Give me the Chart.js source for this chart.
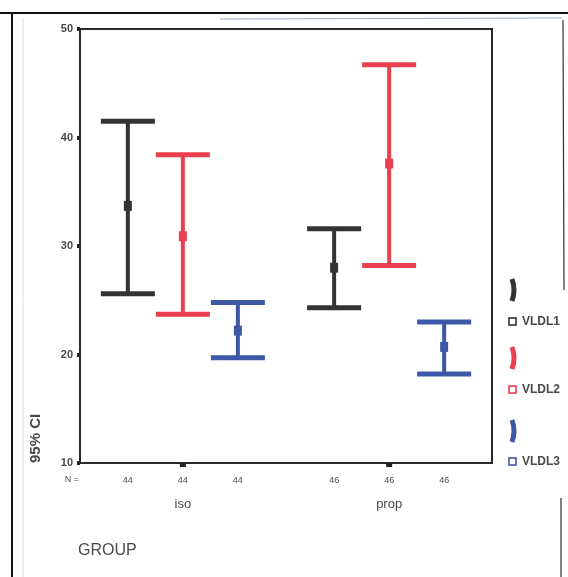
<!DOCTYPE html>
<html lang="en">
    <head>
        <meta charset="utf-8" />
        <title>95% CI by group</title>
        <script src="https://cdn.jsdelivr.net/npm/chart.js"></script>
        <style>
            html, body { margin: 0; padding: 0; background: #fff; }
            #wrap { width: 568px; height: 577px; position: relative; }
        </style>
    </head>
    <body>
        <div id="wrap">
          <canvas id="ciChart" width="568" height="577"></canvas>
        </div>
        <script>
            // data
            const groups = ['iso', 'prop'];
            const seriesNames = ['VLDL1', 'VLDL2', 'VLDL3'];
            const seriesColors = ['#333333', '#e8404f', '#3c58a6'];
            const nCounts = [[44, 44, 44], [46, 46, 46]];   // per group, per series

            const meanVLDL1 = [33.7, 28.0];
            const meanVLDL2 = [30.9, 37.6];
            const meanVLDL3 = [22.2, 20.7];
            const lowVLDL1 = [25.6, 24.3];
            const lowVLDL2 = [23.7, 28.2];
            const lowVLDL3 = [19.7, 18.2];
            const highVLDL1 = [41.5, 31.6];
            const highVLDL2 = [38.4, 46.7];
            const highVLDL3 = [24.8, 23.0];

            const yTicks = [10, 20, 30, 40, 50];

            const means = [meanVLDL1, meanVLDL2, meanVLDL3];
            const lows = [lowVLDL1, lowVLDL2, lowVLDL3];
            const highs = [highVLDL1, highVLDL2, highVLDL3];

            // cluster layout on the x scale
            const groupCenter = [2, 5.75];
            const slotOffset = [-1, 0, 1];
            const slotX = [];
            groups.forEach((g, gi) => slotOffset.forEach(o => slotX.push(groupCenter[gi] + o)));

            const datasets = seriesNames.map((name, si) => ({
              label: name,
              data: groups.map((g, gi) => ({
                x: groupCenter[gi] + slotOffset[si],
                y: means[si][gi],
                lo: lows[si][gi],
                hi: highs[si][gi]
              })),
              borderColor: seriesColors[si],
              backgroundColor: seriesColors[si],
              pointRadius: 0,
              showLine: false
            }));

            const textColor = '#4a4a4a';
            const font = '"Liberation Sans", Arial, sans-serif';

            // scan frame lines round the figure
            const framePlugin = {
              id: 'frame',
              beforeDraw(chart) {
                const ctx = chart.ctx;
                ctx.save();
                ctx.strokeStyle = '#111';
                ctx.lineWidth = 2;
                ctx.beginPath();
                ctx.moveTo(0, 13); ctx.lineTo(568, 13);
                ctx.moveTo(12, 13); ctx.lineTo(12, 577);
                ctx.stroke();
                ctx.strokeStyle = '#ddd';
                ctx.lineWidth = 1;
                ctx.beginPath();
                ctx.moveTo(23, 18); ctx.lineTo(23, 577);
                ctx.stroke();
                ctx.strokeStyle = '#9aa8c0';
                ctx.beginPath();
                ctx.moveTo(220, 19); ctx.lineTo(562, 18);
                ctx.stroke();
                ctx.strokeStyle = '#333';
                ctx.lineWidth = 1.2;
                ctx.beginPath();
                ctx.moveTo(563, 20); ctx.lineTo(564, 290);
                ctx.moveTo(561, 498); ctx.lineTo(561, 577);
                ctx.stroke();
                ctx.restore();
              }
            };

            // error bars, mean markers, box, labels and legend
            const errorBarPlugin = {
              id: 'errorBars',
              afterDatasetsDraw(chart) {
                const ctx = chart.ctx;
                const xs = chart.scales.x, ys = chart.scales.y;
                const area = chart.chartArea;
                ctx.save();

                // box round the plot
                ctx.strokeStyle = '#2a2a2a';
                ctx.lineWidth = 2;
                ctx.strokeRect(area.left, area.top, area.right - area.left, area.bottom - area.top);

                chart.data.datasets.forEach(ds => {
                  ds.data.forEach(p => {
                    const px = xs.getPixelForValue(p.x);
                    const pLo = ys.getPixelForValue(p.lo);
                    const pHi = ys.getPixelForValue(p.hi);
                    const pM = ys.getPixelForValue(p.y);
                    ctx.strokeStyle = ds.borderColor;
                    ctx.fillStyle = ds.borderColor;
                    ctx.lineWidth = 4;
                    ctx.beginPath();
                    ctx.moveTo(px, pLo); ctx.lineTo(px, pHi);
                    ctx.stroke();
                    ctx.lineWidth = 5;
                    ctx.beginPath();
                    ctx.moveTo(px - 27, pHi); ctx.lineTo(px + 27, pHi);
                    ctx.moveTo(px - 27, pLo); ctx.lineTo(px + 27, pLo);
                    ctx.stroke();
                    ctx.fillRect(px - 4, pM - 5, 8, 10);
                  });
                });

                // x tick marks at the group centres
                ctx.fillStyle = '#222';
                groupCenter.forEach(c => {
                  ctx.fillRect(xs.getPixelForValue(c) - 3, area.bottom, 6, 4);
                });

                // N= and group names
                ctx.fillStyle = textColor;
                ctx.textAlign = 'center';
                ctx.textBaseline = 'middle';
                ctx.font = '9px ' + font;
                ctx.fillText('N =', area.left - 8, 480);
                ctx.font = '13px ' + font;
                groups.forEach((g, gi) => {
                  ctx.fillText(g, xs.getPixelForValue(groupCenter[gi]), 504);
                });

                // axis titles
                ctx.font = '16px ' + font;
                ctx.textAlign = 'left';
                ctx.fillText('GROUP', 78, 551);
                ctx.save();
                ctx.translate(36, 463);
                ctx.rotate(-Math.PI / 2);
                ctx.font = 'bold 15px ' + font;
                ctx.fillText('95% CI', 0, 0);
                ctx.restore();

                // legend: small error-bar glyph, then square and name
                const iconY = [290, 358, 431];
                const labelY = [322, 390, 462];
                seriesNames.forEach((name, si) => {
                  const c = seriesColors[si];
                  ctx.strokeStyle = c;
                  ctx.fillStyle = c;
                  ctx.lineWidth = 5;
                  ctx.beginPath();
                  ctx.moveTo(512, iconY[si] - 11);
                  ctx.quadraticCurveTo(516, iconY[si], 512, iconY[si] + 11);
                  ctx.stroke();
                  ctx.lineWidth = 1.6;
                  ctx.strokeRect(509, labelY[si] - 4, 7, 7);
                  ctx.fillStyle = textColor;
                  ctx.font = 'bold 12px ' + font;
                  ctx.textAlign = 'left';
                  ctx.fillText(name, 522, labelY[si]);
                });
                ctx.restore();
              }
            };

            new Chart(document.getElementById('ciChart'), {
              type: 'scatter',
              data: { datasets: datasets },
              options: {
                responsive: false,
                animation: false,
                devicePixelRatio: 1,
                layout: { padding: { left: 0, top: 29, right: 76, bottom: 0 } },
                plugins: { legend: { display: false }, tooltip: { enabled: false } },
                scales: {
                  x: {
                    type: 'linear',
                    min: 0.13,
                    max: 7.62,
                    afterBuildTicks: s => { s.ticks = slotX.map(v => ({ value: v })); },
                    afterFit: s => { s.height = 114; },
                    grid: { display: false },
                    border: { display: false },
                    ticks: {
                      padding: 4,
                      maxRotation: 0,
                      color: textColor,
                      font: { size: 9, family: font },
                      callback: (v, i) => nCounts[Math.floor(i / 3)][i % 3]
                    }
                  },
                  y: {
                    min: 10,
                    max: 50,
                    afterBuildTicks: s => { s.ticks = yTicks.map(v => ({ value: v })); },
                    afterFit: s => { s.width = 80; },
                    grid: { drawOnChartArea: false, tickLength: 3, lineWidth: 4, color: '#222' },
                    border: { display: false },
                    ticks: {
                      padding: 4,
                      color: textColor,
                      font: { size: 11, weight: 'bold', family: font }
                    }
                  }
                }
              },
              plugins: [framePlugin, errorBarPlugin]
            });
        </script>
    </body>
</html>
